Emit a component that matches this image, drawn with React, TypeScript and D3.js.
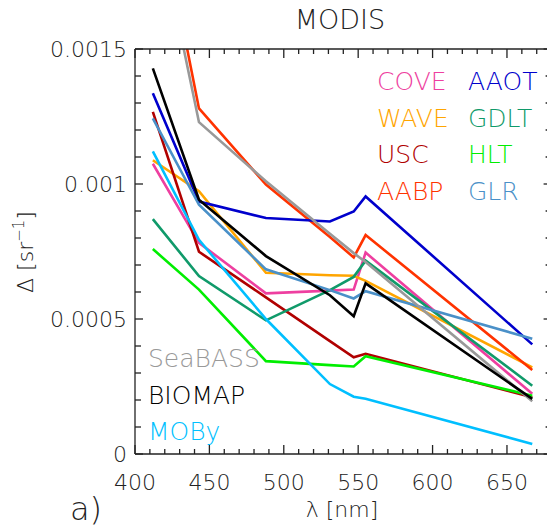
import React from "react";
import * as d3 from "d3";

const wavelengths = [412, 443, 488, 531, 547, 555, 667];

const seriesNames = ["COVE", "WAVE", "USC", "AABP", "AAOT", "GDLT", "HLT", "GLR", "SeaBASS", "BIOMAP", "MOBy"];
const seriesColors = ["#ee3fa0", "#ffa500", "#b00000", "#ff3300", "#0000cc", "#109a6a", "#00ee00", "#4a90c8", "#999999", "#000000", "#00bfff"];

const COVE = [0.001075, 0.000782, 0.000595, 0.000605, 0.000609, 0.000746, 0.000223];
const WAVE = [0.001088, 0.000973, 0.000671, 0.000662, 0.00066, 0.000641, 0.000321];
const USC = [0.001267, 0.000749, 0.00058, 0.000418, 0.000358, 0.000371, 0.00021];
const AABP = [0.00214, 0.00128, 0.000998, 0.000804, 0.000728, 0.000811, 0.000311];
const AAOT = [0.001336, 0.000935, 0.000874, 0.000861, 0.000898, 0.000954, 0.000406];
const GDLT = [0.00087, 0.000659, 0.000495, 0.000607, 0.000656, 0.000716, 0.000253];
const HLT = [0.000759, 0.000609, 0.000344, 0.000329, 0.000324, 0.000362, 0.000216];
const GLR = [0.001243, 0.000923, 0.000684, 0.000607, 0.000576, 0.000603, 0.000427];
const SeaBASS = [0.00205, 0.001229, 0.00101, 0.000816, 0.000744, 0.000711, 0.000195];
const BIOMAP = [0.001428, 0.000942, 0.000733, 0.000588, 0.00051, 0.000632, 0.000204];
const MOBy = [0.001121, 0.000793, 0.0005, 0.000259, 0.000212, 0.000205, 0.000037];

const seriesValues = [COVE, WAVE, USC, AABP, AAOT, GDLT, HLT, GLR, SeaBASS, BIOMAP, MOBy];

const xTicks = [400, 450, 500, 550, 600, 650];
const yTicks = [0, 0.0005, 0.001, 0.0015];
const yTickLabels = ["0", "0.0005", "0.001", "0.0015"];

const legendRight = [["COVE", "AAOT"], ["WAVE", "GDLT"], ["USC", "HLT"], ["AABP", "GLR"]];
const legendLeft = ["SeaBASS", "BIOMAP", "MOBy"];

const FONT = "'DejaVu Sans', sans-serif";
const TEXT = "#222";

export default function App() {
  const W = 547, H = 527;
  const left = 135, right = 551.6, top = 49, bottom = 454;
  const x = d3.scaleLinear().domain([400, 680]).range([left, right]);
  const y = d3.scaleLinear().domain([0, 0.0015]).range([bottom, top]);
  const line = d3.line<number>().x((_, i) => x(wavelengths[i])).y((v) => y(v));
  const colorOf = (n: string) => seriesColors[seriesNames.indexOf(n)];

  const xMinor = d3.range(400, 681, 10);
  const yMinor = d3.range(0, 0.00151, 0.0001);

  return (
    <svg width={W} height={H} style={{ position: "absolute", left: 0, top: 0 }} fontFamily={FONT} fontWeight={200}>
      <defs>
        <clipPath id="plotclip">
          <rect x={left} y={top} width={right - left} height={bottom - top} />
        </clipPath>
      </defs>
      <rect width={W} height={H} fill="#fff" />
      {/* lines */}
      <g clipPath="url(#plotclip)">
        {seriesNames.map((n, i) => (
          <path key={n} d={line(seriesValues[i]) || ""} fill="none" stroke={seriesColors[i]} strokeWidth={2.6} strokeLinejoin="miter" />
        ))}
      </g>
      {/* frame */}
      <g stroke="#222" strokeWidth={1.3} fill="none">
        <line x1={left} x2={right} y1={bottom} y2={bottom} />
        <line x1={left} x2={right} y1={top} y2={top} />
        <line x1={left} x2={left} y1={top} y2={bottom} />
        <line x1={right} x2={right} y1={top} y2={bottom} />
        {xMinor.map((t) => {
          const major = t % 50 === 0;
          const len = major ? 9 : 5;
          return (
            <g key={"xt" + t}>
              <line x1={x(t)} x2={x(t)} y1={bottom} y2={bottom - len} />
              <line x1={x(t)} x2={x(t)} y1={top} y2={top + len} />
            </g>
          );
        })}
        {yMinor.map((t, i) => {
          const len = i % 5 === 0 ? 8 : 6;
          return (
            <g key={"yt" + i}>
              <line x1={left} x2={left + len} y1={y(t)} y2={y(t)} />
              <line x1={right} x2={right - len} y1={y(t)} y2={y(t)} />
            </g>
          );
        })}
      </g>
      {/* tick labels */}
      <g fill={TEXT} fontSize={22}>
        {xTicks.map((t) => (
          <text key={"xl" + t} x={x(t)} y={490} textAnchor="middle">{t}</text>
        ))}
        {yTicks.map((t, i) => (
          <text key={"yl" + i} x={127} y={y(t)} textAnchor="end" dominantBaseline="central">{yTickLabels[i]}</text>
        ))}
      </g>
      {/* axis titles */}
      <text x={342} y={517} textAnchor="middle" fontSize={22} fill={TEXT}>λ [nm]</text>
      <text transform="translate(33,252) rotate(-90)" textAnchor="middle" fontSize={22} fill={TEXT}>
        Δ [sr<tspan dy={-9} fontSize={15}>−1</tspan><tspan dy={9}>]</tspan>
      </text>
      <text x={340} y={29} textAnchor="middle" fontSize={27} fill={TEXT}>MODIS</text>
      <text x={70} y={520} fontSize={32} fill={TEXT}>a)</text>
      {/* legends */}
      <g fontSize={25}>
        {legendRight.map((row, r) => (
          <g key={"lr" + r}>
            <text x={377} y={90 + r * 36.7} fill={colorOf(row[0])}>{row[0]}</text>
            <text x={468} y={90 + r * 36.7} fill={colorOf(row[1])}>{row[1]}</text>
          </g>
        ))}
        {legendLeft.map((n, r) => (
          <text key={"ll" + n} x={148} y={367 + r * 36.5} fill={colorOf(n)}>{n}</text>
        ))}
      </g>
    </svg>
  );
}
